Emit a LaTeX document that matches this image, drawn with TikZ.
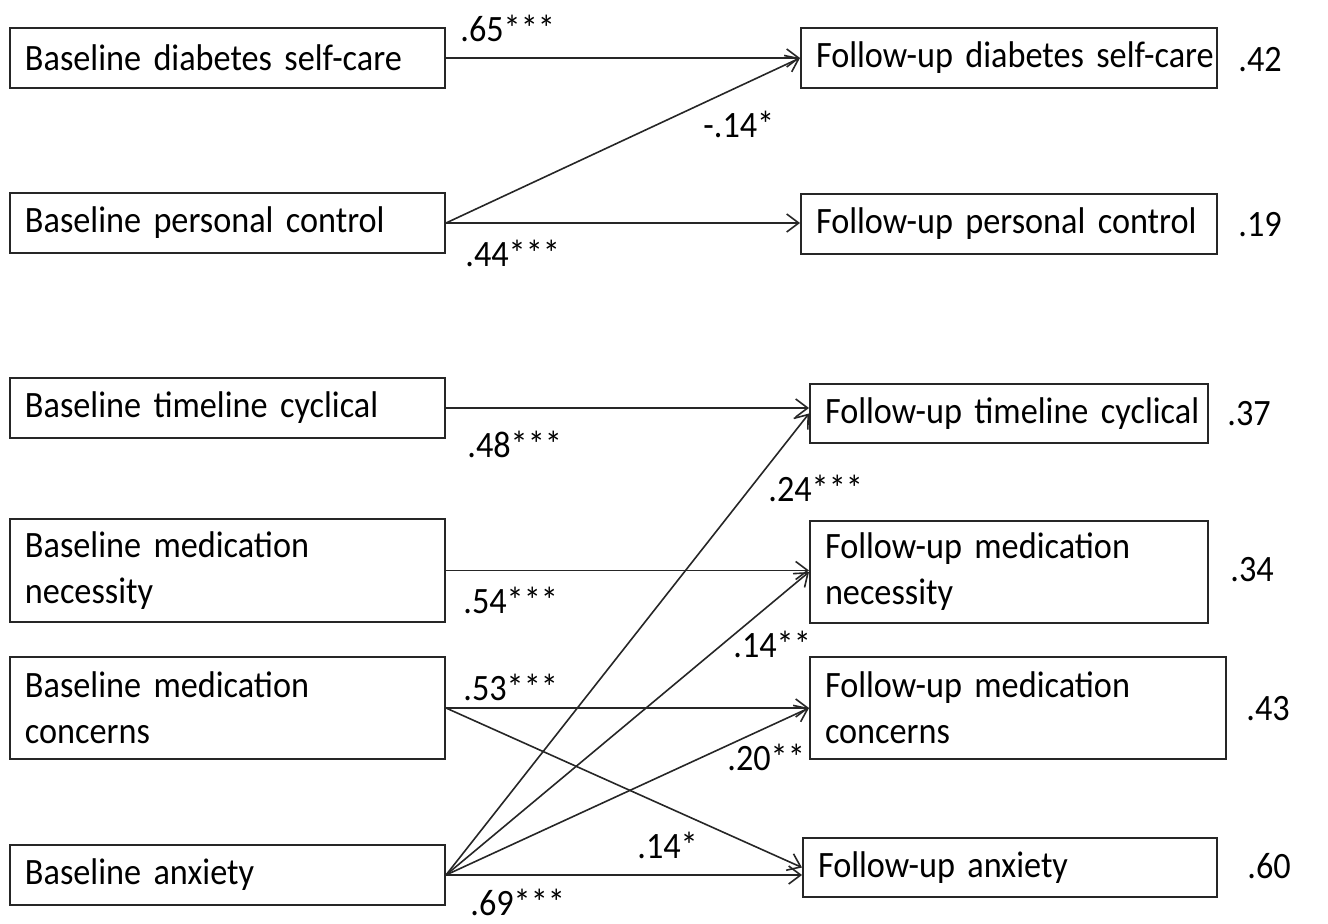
\documentclass[tikz,border=0pt]{standalone}
\usepackage{fontspec}
\setmainfont{Carlito}[FakeStretch=0.92]
\usetikzlibrary{arrows.meta}
\newcommand\diagfont{\fontsize{18.6}{23}\selectfont\fontdimen2\font=3.4pt\fontdimen3\font=0pt\fontdimen4\font=0pt\relax}
\begin{document}
\begin{tikzpicture}[x=0.5pt,y=-0.5pt,
  box/.style={draw=black!85, line width=1pt, rectangle, inner xsep=7.5pt, inner ysep=0pt,
    align=left, font=\diagfont, text=black},
  lbl/.style={anchor=base west, inner sep=0pt, font=\diagfont, text=black},
  arr/.style={-{Straight Barb[length=6pt,width=9pt]}, line width=0.8pt, draw=black!85}]
\useasboundingbox (0,0) rectangle (1328,924);
% left boxes
\node[box, text width=202.5pt, minimum height=30pt] (L1) at (227.5,58) {\mbox{Baseline diabetes self-care}};
\node[box, text width=202.5pt, minimum height=30pt] (L2) at (227.5,223) {\mbox{Baseline personal control}};
\node[box, text width=202.5pt, minimum height=30pt] (L3) at (227.5,408) {\mbox{Baseline timeline cyclical}};
\node[box, text width=202.5pt, minimum height=51.5pt] (L4) at (227.5,570.5) {\mbox{Baseline medication}\\necessity};
\node[box, text width=202.5pt, minimum height=51pt] (L5) at (227.5,708) {\mbox{Baseline medication}\\concerns};
\node[box, text width=202.5pt, minimum height=30pt] (L6) at (227.5,875) {\mbox{Baseline anxiety}};
% right boxes
\node[box, text width=193pt, minimum height=30pt] (R1) at (1009,58) {\mbox{Follow-up diabetes self-care}};
\node[box, text width=193pt, minimum height=30pt] (R2) at (1009,224) {\mbox{Follow-up personal control}};
\node[box, text width=184pt, minimum height=29.5pt] (R3) at (1009,413.5) {\mbox{Follow-up timeline cyclical}};
\node[box, text width=184pt, minimum height=51pt] (R4) at (1009,572) {\mbox{Follow-up medication}\\necessity};
\node[box, text width=193pt, minimum height=51pt] (R5) at (1018,708) {\mbox{Follow-up medication}\\concerns};
\node[box, text width=192pt, minimum height=29.5pt] (R6) at (1010,867.5) {\mbox{Follow-up anxiety}};
% arrows
\draw[arr] (L1.east) -- (L1.east -| R1.west);
\draw[arr] (L2.east) -- (R1.west);
\draw[arr] (L2.east) -- (L2.east -| R2.west);
\draw[arr] (L3.east) -- (L3.east -| R3.west);
\draw[arr] (L4.east) -- (L4.east -| R4.west);
\draw[arr] (L5.east) -- (L5.east -| R5.west);
\draw[arr] (L5.east) -- (R6.west);
\draw[arr] (L6.east) -- (R3.west);
\draw[arr] (L6.east) -- (R4.west);
\draw[arr] (L6.east) -- (R5.west);
\draw[arr] (L6.east) -- (L6.east -| R6.west);
% path labels
\node[lbl] (p1) at (460,42) {.65***};
\node[lbl] (p2) at (703,138) {-.14*};
\node[lbl] (p3) at (465,267) {.44***};
\node[lbl] (p4) at (467,458) {.48***};
\node[lbl] (p5) at (768,502) {.24***};
\node[lbl] (p6) at (463,614) {.54***};
\node[lbl] (p7) at (733,658) {.14**};
\node[lbl] (p8) at (463,700) {.53***};
\node[lbl] (p9) at (727,770) {.20**};
\node[lbl] (p10) at (637,858) {.14*};
\node[lbl] (p11) at (470,915) {.69***};
% R squared
\node[lbl] (r1) at (1238,72) {.42};
\node[lbl] (r2) at (1238,237) {.19};
\node[lbl] (r3) at (1227,426) {.37};
\node[lbl] (r4) at (1230,582) {.34};
\node[lbl] (r5) at (1246,720) {.43};
\node[lbl] (r6) at (1247,878) {.60};
\end{tikzpicture}
\end{document}
